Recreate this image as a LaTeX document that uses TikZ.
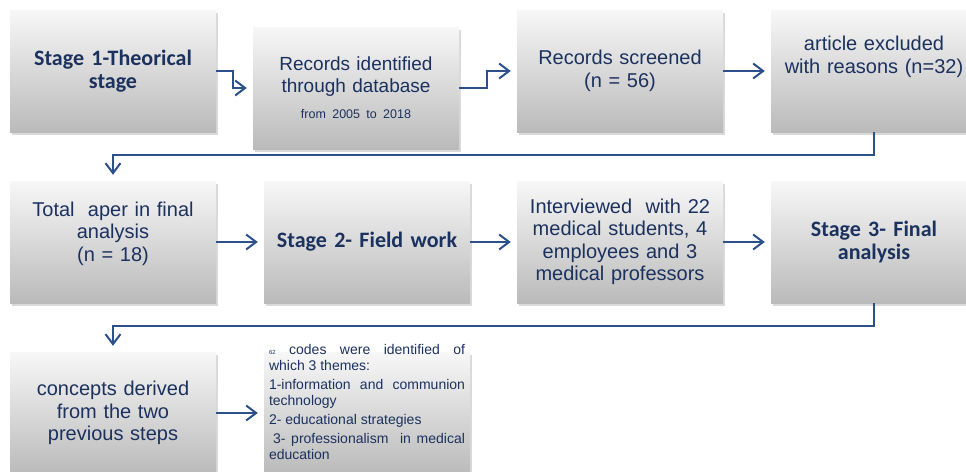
\documentclass[tikz,border=0pt]{standalone}
\usepackage{fontspec}
\setmainfont{Liberation Sans}
\newfontfamily\calfont{Carlito}
\usetikzlibrary{shapes,arrows.meta,shadows}
\definecolor{navytext}{RGB}{27,49,94}
\definecolor{linkblue}{RGB}{44,80,140}
\newcommand{\boldtxt}{\calfont\bfseries\fontsize{22}{22.5}\selectfont}
\newcommand{\plaintxt}{\fontsize{20}{22.5}\selectfont}
\newcommand{\smalltxt}{\fontsize{14}{16}\selectfont}

\begin{document}
\begin{tikzpicture}[x=1pt, y=-1pt]
\tikzstyle{stagebox}=[rectangle, minimum width=206pt, minimum height=122pt, inner sep=4pt, text width=196pt, align=center, text=navytext, top color=black!3, middle color=black!9, bottom color=black!27, drop shadow={shadow xshift=1.5pt, shadow yshift=-3pt, opacity=0.3}]
\tikzstyle{themetext}=[rectangle, inner sep=0pt, text width=196pt, align=justify, text=navytext, font=\smalltxt]
\tikzstyle{drawstyle}=[line width=2pt, draw=linkblue, -{Straight Barb[length=10pt,width=15pt]}, shorten >=6pt]

\useasboundingbox (0,0) rectangle (966,471);
\clip (0,0) rectangle (966,471);

\node[stagebox, font=\boldtxt] (G0x0) at (113,71) {Stage 1-Theorical\\stage};
\node[stagebox, font=\fontsize{19}{22}\selectfont] (G0x1) at (356,88) {Records identified\\through database\\[4pt]{\fontsize{12.5}{14}\selectfont from 2005 to 2018}};
\draw[drawstyle] (G0x0.east) -- ++(17,0) |- (G0x1.west);
\node[stagebox, font=\plaintxt] (G0x2) at (620,71) {Records screened\\(n = 56)};
\draw[drawstyle] (G0x1.east) -- ++(28,0) |- (G0x2.west);
\node[stagebox, font=\plaintxt] (G0x3) at (874,71) {article excluded\\with reasons (n=32)\\[10pt]~};
\draw[drawstyle] (G0x2) -- (G0x3);

\node[stagebox, font=\plaintxt] (G1x0) at (113,242) {Total\ \ aper in final\\analysis\\(n = 18)\\[-2pt]~};
\draw[drawstyle] (G0x3.south) -- ++(0,23) -| (G1x0.north);
\node[stagebox, font=\boldtxt] (G1x1) at (367,242) {Stage 2- Field work};
\draw[drawstyle] (G1x0) -- (G1x1);
\node[stagebox, font=\plaintxt] (G1x2) at (620,242) {Interviewed\ \ with 22\\medical students, 4\\employees and 3\\medical professors};
\draw[drawstyle] (G1x1) -- (G1x2);
\node[stagebox, font=\boldtxt] (G1x3) at (874,242) {Stage 3- Final\\analysis};
\draw[drawstyle] (G1x2) -- (G1x3);

\node[stagebox, font=\plaintxt] (G2x0) at (113,413) {concepts derived\\from the two\\previous steps};
\draw[drawstyle] (G1x3.south) -- ++(0,23) -| (G2x0.north);
\node[stagebox] (G2x1) at (367,413) {};
\node[themetext] (G2x1t) at (367,402) {{\fontsize{6}{7}\selectfont 62} codes were identified of\linebreak which 3 themes:\par\vspace{3pt}
1-information and communion\linebreak technology\par\vspace{3pt}
2- educational strategies\par\vspace{3pt}
\hspace*{4pt}3- professionalism\ \ in medical\linebreak education};
\draw[drawstyle] (G2x0) -- (G2x1);
\end{tikzpicture}
\end{document}
